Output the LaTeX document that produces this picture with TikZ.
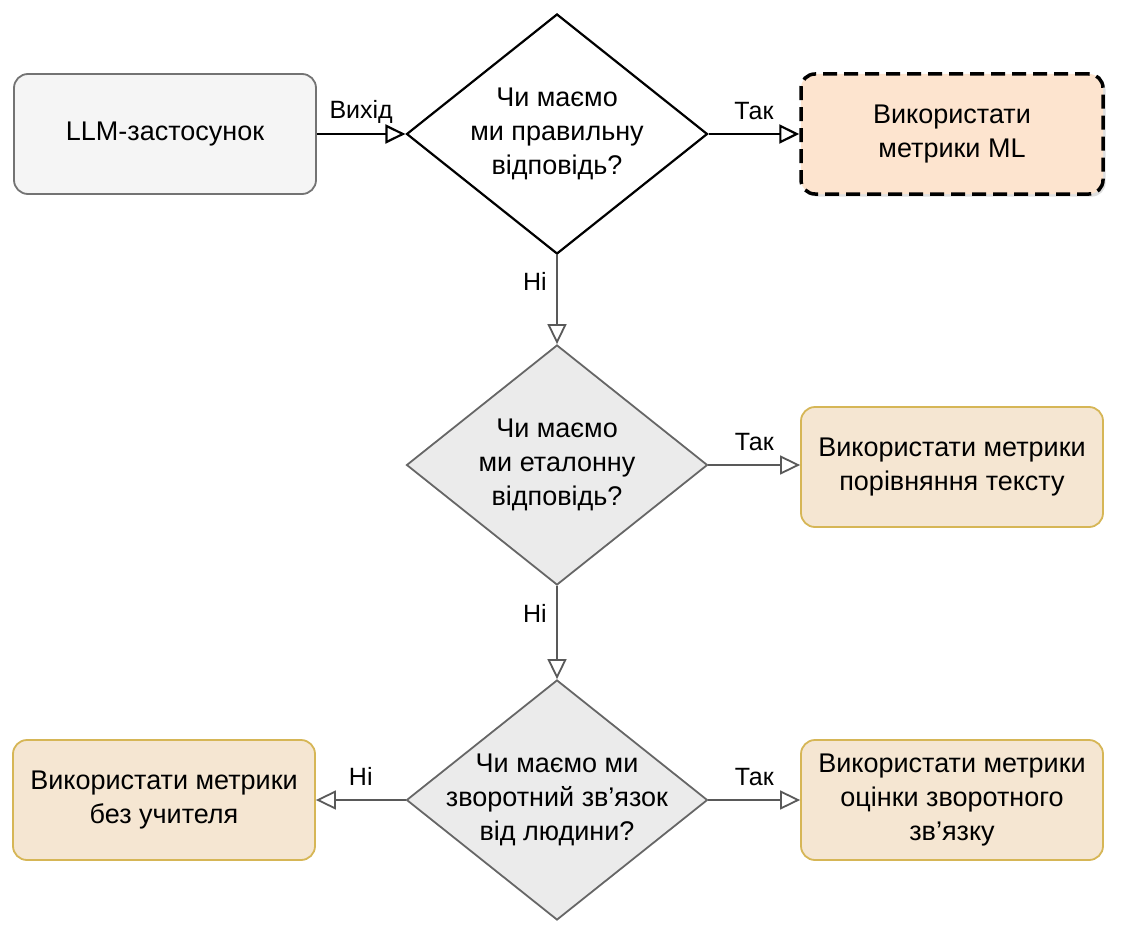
\documentclass[tikz,border=0pt]{standalone}
\usepackage{fontspec}
\setmainfont{Liberation Sans}
\usetikzlibrary{shapes.geometric,arrows.meta,shadows}
\definecolor{gbord}{HTML}{D6B656}
\definecolor{gfill}{HTML}{F5E6D2}
\definecolor{pfill}{HTML}{FDE4CF}
\begin{document}
\begin{tikzpicture}[x=1pt,y=-1pt,
  every node/.style={font=\fontsize{27}{34}\selectfont},
  box/.style={rectangle,rounded corners=14pt,minimum width=302pt,minimum height=120pt,align=center,line width=1.8pt},
  gold/.style={box,draw=gbord,fill=gfill},
  dia/.style={diamond,inner sep=0pt,minimum width=301pt,minimum height=240pt,line width=1.8pt},
  arr/.style={line width=1.8pt,draw=black!65,-{Triangle[open,length=20pt,width=19pt]}},
  lab/.style={font=\fontsize{25}{30}\selectfont}]
\useasboundingbox (0,0) rectangle (1126,944);
\node[box,draw=black!55,fill=black!4] (llm) at (165,134) {LLM-застосунок};
\node[dia,draw=black,fill=white,line width=2.2pt] (d1) at (557,134) {};
\node[align=center] at (d1) {Чи маємо\\ми правильну\\відповідь?};
\node[box,draw=black,dash pattern=on 14pt off 7pt,line width=3.5pt,fill=pfill,drop shadow={opacity=0.25}] (ml) at (952,134) {Використати\\метрики ML};
\node[dia,draw=black!60,fill=black!8] (d2) at (557,465) {};
\node[align=center] at (d2) {Чи маємо\\ми еталонну\\відповідь?};
\node[gold] (b2) at (952,467) {Використати метрики\\порівняння тексту};
\node[dia,draw=black!60,fill=black!8] (d3) at (557,800) {};
\node[align=center] at (d3) {Чи маємо ми\\зворотний зв’язок\\від людини?};
\node[gold] (bl) at (164,800) {Використати метрики\\без учителя};
\node[gold] (br) at (952,800) {Використати метрики\\оцінки зворотного\\зв’язку};
\draw[arr,draw=black,line width=2.2pt] (llm) -- (d1) node[lab,midway,above=6pt] {Вихід};
\draw[arr,draw=black,line width=2.2pt] (d1) -- (ml) node[lab,midway,above=10pt] {Так};
\draw[arr] (d1) -- (d2) node[lab,pos=0.3,left=6pt] {Ні};
\draw[arr] (d2) -- (b2.west|-d2) node[lab,midway,above=10pt] {Так};
\draw[arr] (d2) -- (d3) node[lab,pos=0.3,left=6pt] {Ні};
\draw[arr] (d3) -- (bl) node[lab,midway,above=10pt] {Ні};
\draw[arr] (d3) -- (br) node[lab,midway,above=10pt] {Так};
\end{tikzpicture}
\end{document}
